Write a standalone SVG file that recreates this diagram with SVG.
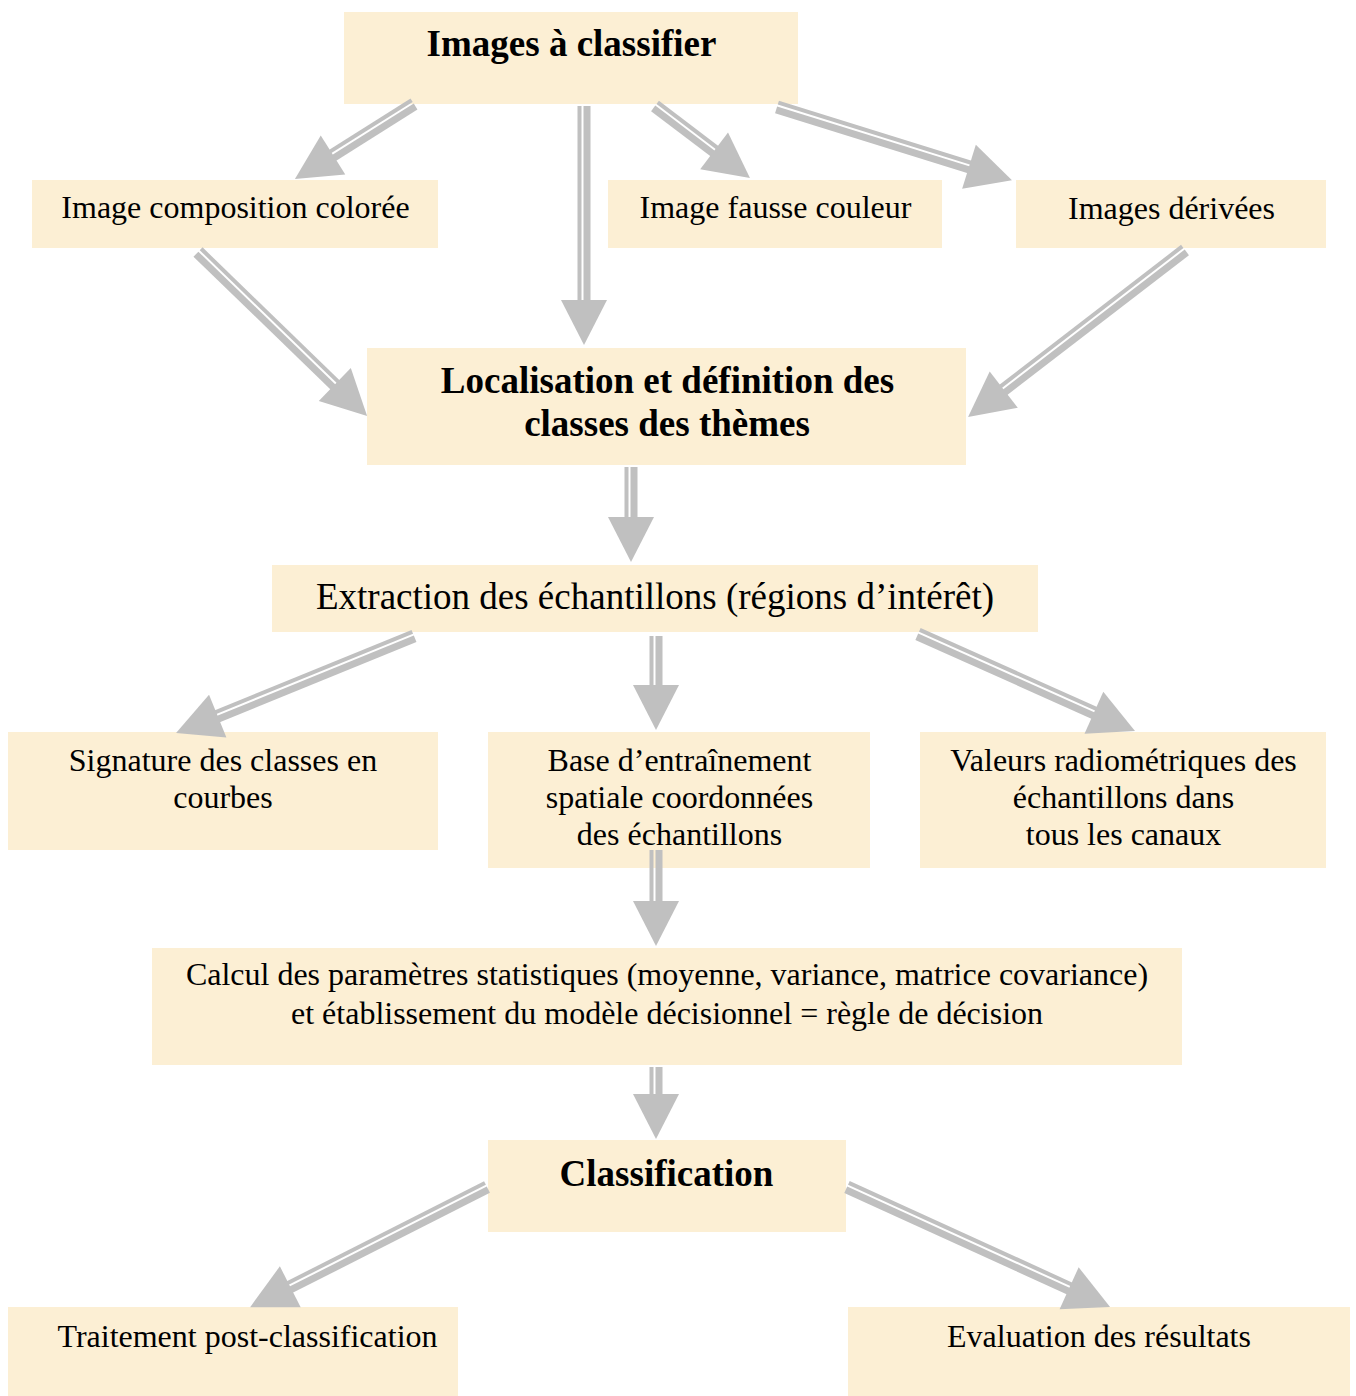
<svg xmlns="http://www.w3.org/2000/svg" width="1356" height="1396" viewBox="0 0 1356 1396">
<defs>
<style>
.box{fill:#fcefd4}
.t{font-family:"Liberation Serif","Times New Roman",serif;font-size:32px;fill:#000;text-anchor:middle}
.b{font-weight:bold;font-size:37px}
.big{font-size:37px}
.a{fill:#c0c0c0}
</style>
</defs>
<rect width="1356" height="1396" fill="#ffffff"/>
<g id="nodes">
<g id="n1"><rect class="box" x="344" y="12" width="454" height="92"/><text class="t b" x="571.5" y="56">Images à classifier</text></g>
<g id="n2"><rect class="box" x="32" y="180" width="406" height="68"/><text class="t" x="235.5" y="218">Image composition colorée</text></g>
<g id="n3"><rect class="box" x="608" y="180" width="334" height="68"/><text class="t" x="775.5" y="218">Image fausse couleur</text></g>
<g id="n4"><rect class="box" x="1016" y="180" width="310" height="68"/><text class="t" x="1171.5" y="219">Images dérivées</text></g>
<g id="n5"><rect class="box" x="367" y="348" width="599" height="117"/><text class="t b" x="667.5" y="393">Localisation et définition des</text><text class="t b" x="667" y="436">classes des thèmes</text></g>
<g id="n6"><rect class="box" x="272" y="565" width="766" height="67"/><text class="t big" x="655" y="609">Extraction des échantillons (régions d’intérêt)</text></g>
<g id="n7"><rect class="box" x="8" y="732" width="430" height="118"/><text class="t" x="223" y="771">Signature des classes en</text><text class="t" x="223" y="808">courbes</text></g>
<g id="n8"><rect class="box" x="488" y="732" width="382" height="136"/><text class="t" x="679.5" y="771">Base d’entraînement</text><text class="t" x="679.5" y="808">spatiale coordonnées</text><text class="t" x="679.5" y="845">des échantillons</text></g>
<g id="n9"><rect class="box" x="920" y="732" width="406" height="136"/><text class="t" x="1123.5" y="771">Valeurs radiométriques des</text><text class="t" x="1123.5" y="808">échantillons dans</text><text class="t" x="1123.5" y="845">tous les canaux</text></g>
<g id="n10"><rect class="box" x="152" y="948" width="1030" height="117"/><text class="t" x="667" y="985">Calcul des paramètres statistiques (moyenne, variance, matrice covariance)</text><text class="t" x="667" y="1024">et établissement du modèle décisionnel = règle de décision</text></g>
<g id="n11"><rect class="box" x="488" y="1140" width="358" height="92"/><text class="t b" x="666.5" y="1186">Classification</text></g>
<g id="n12"><rect class="box" x="8" y="1307" width="450" height="89"/><text class="t" x="247.5" y="1347">Traitement post-classification</text></g>
<g id="n13"><rect class="box" x="848" y="1307" width="502" height="89"/><text class="t" x="1099" y="1347">Evaluation des résultats</text></g>
</g>
<g id="connectors">
<g transform="translate(414,104) rotate(147.8)"><rect class="a" x="0" y="-6.5" width="100.7" height="7"/><rect class="a" x="0" y="2.5" width="100.7" height="4"/><polygon class="a" points="95.7,-23 140.7,0 95.7,23"/></g>
<g transform="translate(584,106) rotate(90)"><rect class="a" x="0" y="-6.5" width="199" height="7"/><rect class="a" x="0" y="2.5" width="199" height="4"/><polygon class="a" points="194,-23 239,0 194,23"/></g>
<g transform="translate(655,106) rotate(37.2) scale(1,-1)"><rect class="a" x="0" y="-6.5" width="79.2" height="7"/><rect class="a" x="0" y="2.5" width="79.2" height="4"/><polygon class="a" points="74.2,-23 119.2,0 74.2,23"/></g>
<g transform="translate(777,107) rotate(17.3) scale(1,-1)"><rect class="a" x="0" y="-6.5" width="206.1" height="7"/><rect class="a" x="0" y="2.5" width="206.1" height="4"/><polygon class="a" points="201.1,-23 246.1,0 201.1,23"/></g>
<g transform="translate(198,252) rotate(44.1) scale(1,-1)"><rect class="a" x="0" y="-6.5" width="195.5" height="7"/><rect class="a" x="0" y="2.5" width="195.5" height="4"/><polygon class="a" points="190.5,-23 235.5,0 190.5,23"/></g>
<g transform="translate(1185,250) rotate(142.4)"><rect class="a" x="0" y="-6.5" width="233.8" height="7"/><rect class="a" x="0" y="2.5" width="233.8" height="4"/><polygon class="a" points="228.8,-23 273.8,0 228.8,23"/></g>
<g transform="translate(631,467) rotate(90)"><rect class="a" x="0" y="-6.5" width="55" height="7"/><rect class="a" x="0" y="2.5" width="55" height="4"/><polygon class="a" points="50,-23 95,0 50,23"/></g>
<g transform="translate(414,636) rotate(157.8)"><rect class="a" x="0" y="-6.5" width="217" height="7"/><rect class="a" x="0" y="2.5" width="217" height="4"/><polygon class="a" points="212,-23 257,0 212,23"/></g>
<g transform="translate(656,636) rotate(90)"><rect class="a" x="0" y="-6.5" width="54" height="7"/><rect class="a" x="0" y="2.5" width="54" height="4"/><polygon class="a" points="49,-23 94,0 49,23"/></g>
<g transform="translate(918,634) rotate(24.1) scale(1,-1)"><rect class="a" x="0" y="-6.5" width="197.7" height="7"/><rect class="a" x="0" y="2.5" width="197.7" height="4"/><polygon class="a" points="192.7,-23 237.7,0 192.7,23"/></g>
<g transform="translate(656,850) rotate(90)"><rect class="a" x="0" y="-6.5" width="56" height="7"/><rect class="a" x="0" y="2.5" width="56" height="4"/><polygon class="a" points="51,-23 96,0 51,23"/></g>
<g transform="translate(656,1067) rotate(90)"><rect class="a" x="0" y="-6.5" width="32" height="7"/><rect class="a" x="0" y="2.5" width="32" height="4"/><polygon class="a" points="27,-23 72,0 27,23"/></g>
<g transform="translate(487,1187) rotate(153.1)"><rect class="a" x="0" y="-6.5" width="225.6" height="7"/><rect class="a" x="0" y="2.5" width="225.6" height="4"/><polygon class="a" points="220.6,-23 265.6,0 220.6,23"/></g>
<g transform="translate(847,1187) rotate(24.5) scale(1,-1)"><rect class="a" x="0" y="-6.5" width="249.1" height="7"/><rect class="a" x="0" y="2.5" width="249.1" height="4"/><polygon class="a" points="244.1,-23 289.1,0 244.1,23"/></g>
</g>
</svg>
